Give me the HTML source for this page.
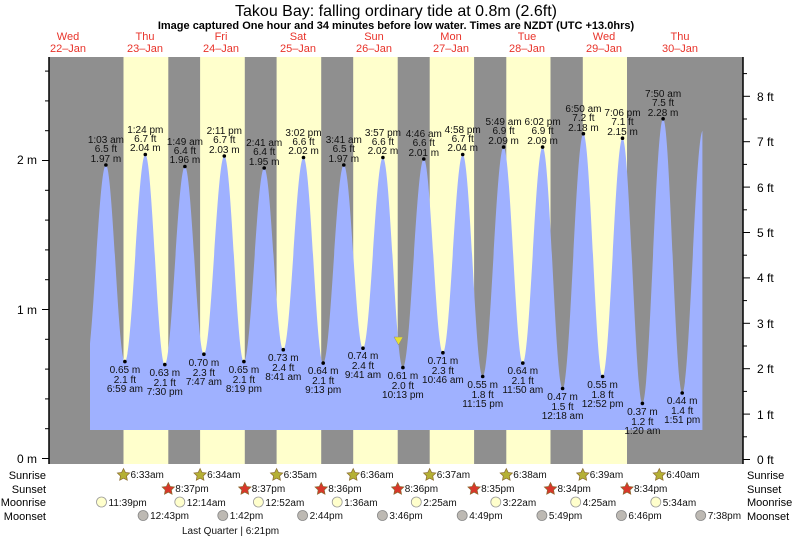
<!DOCTYPE html>
<html><head><meta charset="utf-8"><style>
html,body{margin:0;padding:0;background:#fff;}
svg{display:block;font-family:"Liberation Sans",sans-serif;}
</style></head><body>
<svg width="793" height="538" viewBox="0 0 793 538" xmlns="http://www.w3.org/2000/svg">
<defs>
<clipPath id="cp"><rect x="90" y="57" width="612.4" height="407"/></clipPath>
<polygon id="st" points="0,-6.5 1.88,-2.59 6.18,-2.01 3.04,0.99 3.82,5.26 0,3.2 -3.82,5.26 -3.04,0.99 -6.18,-2.01 -1.88,-2.59" stroke="#8a6a30" stroke-width="0.7"/>
</defs>
<text x="396" y="16" font-size="16" text-anchor="middle">Takou Bay: falling  ordinary tide at 0.8m (2.6ft)</text>
<text x="396" y="29" font-size="11" font-weight="bold" text-anchor="middle">Image captured One hour and 34 minutes before low water. Times are NZDT (UTC +13.0hrs)</text>
<g font-size="11" fill="#e8332a" text-anchor="middle">
<text x="68" y="40">Wed</text><text x="68" y="52">22–Jan</text>
<text x="145" y="40">Thu</text><text x="145" y="52">23–Jan</text>
<text x="221" y="40">Fri</text><text x="221" y="52">24–Jan</text>
<text x="298" y="40">Sat</text><text x="298" y="52">25–Jan</text>
<text x="374" y="40">Sun</text><text x="374" y="52">26–Jan</text>
<text x="451" y="40">Mon</text><text x="451" y="52">27–Jan</text>
<text x="527" y="40">Tue</text><text x="527" y="52">28–Jan</text>
<text x="604" y="40">Wed</text><text x="604" y="52">29–Jan</text>
<text x="680" y="40">Thu</text><text x="680" y="52">30–Jan</text>
</g>
<rect x="49" y="57" width="694" height="407" fill="#8f8f8f"/>
<g fill="#ffffcc">
<rect x="123.5" y="57" width="44.8" height="407"/>
<rect x="200.1" y="57" width="44.7" height="407"/>
<rect x="276.6" y="57" width="44.6" height="407"/>
<rect x="353.2" y="57" width="44.5" height="407"/>
<rect x="429.7" y="57" width="44.4" height="407"/>
<rect x="506.3" y="57" width="44.2" height="407"/>
<rect x="582.8" y="57" width="44.2" height="407"/>
</g>
<path clip-path="url(#cp)" fill="#9fb1ff" d="M85.6,430 L85.6,366.1
C93.0,366.1 98.5,165.0 105.9,165.0
C112.8,165.0 118.0,361.6 124.9,361.6
C132.3,361.6 137.9,154.5 145.3,154.5
C152.4,154.5 157.7,364.6 164.8,364.6
C172.1,364.6 177.6,166.5 184.9,166.5
C191.8,166.5 197.0,354.2 203.9,354.2
C211.3,354.2 216.9,156.0 224.3,156.0
C231.4,156.0 236.8,361.6 243.9,361.6
C251.3,361.6 256.8,168.0 264.2,168.0
C271.2,168.0 276.3,349.7 283.3,349.7
C290.7,349.7 296.1,157.5 303.5,157.5
C310.7,157.5 316.0,363.1 323.2,363.1
C330.7,363.1 336.3,165.0 343.8,165.0
C350.8,165.0 356.0,348.2 363.0,348.2
C370.2,348.2 375.7,157.5 382.9,157.5
C390.2,157.5 395.6,367.6 402.9,367.6
C410.5,367.6 416.2,159.0 423.8,159.0
C430.8,159.0 435.9,352.7 442.9,352.7
C450.1,352.7 455.5,154.5 462.7,154.5
C470.0,154.5 475.4,376.5 482.7,376.5
C490.3,376.5 496.0,147.1 503.6,147.1
C510.6,147.1 515.8,363.1 522.8,363.1
C530.0,363.1 535.4,147.1 542.6,147.1
C549.9,147.1 555.3,388.5 562.6,388.5
C570.2,388.5 575.8,133.7 583.4,133.7
C590.4,133.7 595.6,376.5 602.6,376.5
C609.8,376.5 615.3,138.2 622.5,138.2
C629.7,138.2 635.2,403.4 642.4,403.4
C649.9,403.4 655.6,118.8 663.1,118.8
C670.1,118.8 675.2,393.0 682.2,393.0
C689.7,393.0 695.3,130.7 702.8,130.7
L702.8,430 Z"/>
<polygon points="394,337 403,337 398.5,345" fill="#e8e030" stroke="#888" stroke-width="0.5"/>
<g stroke="#000" stroke-width="1.5"><line x1="49" y1="57" x2="49" y2="464"/><line x1="743" y1="57" x2="743" y2="464"/></g>
<g stroke="#000" stroke-width="1">
<line x1="42" y1="458.5" x2="49" y2="458.5"/><line x1="45" y1="428.7" x2="49" y2="428.7"/><line x1="45" y1="398.9" x2="49" y2="398.9"/><line x1="45" y1="369.1" x2="49" y2="369.1"/><line x1="45" y1="339.3" x2="49" y2="339.3"/><line x1="42" y1="309.5" x2="49" y2="309.5"/><line x1="45" y1="279.7" x2="49" y2="279.7"/><line x1="45" y1="249.9" x2="49" y2="249.9"/><line x1="45" y1="220.1" x2="49" y2="220.1"/><line x1="45" y1="190.3" x2="49" y2="190.3"/><line x1="42" y1="160.5" x2="49" y2="160.5"/><line x1="45" y1="130.7" x2="49" y2="130.7"/><line x1="45" y1="100.9" x2="49" y2="100.9"/><line x1="45" y1="71.1" x2="49" y2="71.1"/>
<line x1="743" y1="459.5" x2="750" y2="459.5"/><line x1="743" y1="436.8" x2="747" y2="436.8"/><line x1="743" y1="414.1" x2="750" y2="414.1"/><line x1="743" y1="391.4" x2="747" y2="391.4"/><line x1="743" y1="368.7" x2="750" y2="368.7"/><line x1="743" y1="346" x2="747" y2="346"/><line x1="743" y1="323.3" x2="750" y2="323.3"/><line x1="743" y1="300.6" x2="747" y2="300.6"/><line x1="743" y1="277.9" x2="750" y2="277.9"/><line x1="743" y1="255.2" x2="747" y2="255.2"/><line x1="743" y1="232.5" x2="750" y2="232.5"/><line x1="743" y1="209.8" x2="747" y2="209.8"/><line x1="743" y1="187.1" x2="750" y2="187.1"/><line x1="743" y1="164.4" x2="747" y2="164.4"/><line x1="743" y1="141.7" x2="750" y2="141.7"/><line x1="743" y1="119" x2="747" y2="119"/><line x1="743" y1="96.3" x2="750" y2="96.3"/><line x1="743" y1="73.6" x2="747" y2="73.6"/>
</g>
<g font-size="12" text-anchor="end"><text x="37" y="164">2 m</text><text x="37" y="314">1 m</text><text x="37" y="463">0 m</text></g>
<g font-size="12">
<text x="757" y="101">8 ft</text><text x="757" y="146">7 ft</text><text x="757" y="192">6 ft</text><text x="757" y="237">5 ft</text><text x="757" y="282">4 ft</text><text x="757" y="328">3 ft</text><text x="757" y="373">2 ft</text><text x="757" y="419">1 ft</text><text x="757" y="464">0 ft</text>
</g>
<g fill="#000">
<circle cx="105.9" cy="165.0" r="1.8"/><circle cx="124.9" cy="361.6" r="1.8"/><circle cx="145.3" cy="154.5" r="1.8"/><circle cx="164.8" cy="364.6" r="1.8"/><circle cx="184.9" cy="166.5" r="1.8"/><circle cx="203.9" cy="354.2" r="1.8"/><circle cx="224.3" cy="156.0" r="1.8"/><circle cx="243.9" cy="361.6" r="1.8"/><circle cx="264.2" cy="168.0" r="1.8"/><circle cx="283.3" cy="349.7" r="1.8"/><circle cx="303.5" cy="157.5" r="1.8"/><circle cx="323.2" cy="363.1" r="1.8"/><circle cx="343.8" cy="165.0" r="1.8"/><circle cx="363.0" cy="348.2" r="1.8"/><circle cx="382.9" cy="157.5" r="1.8"/><circle cx="402.9" cy="367.6" r="1.8"/><circle cx="423.8" cy="159.0" r="1.8"/><circle cx="442.9" cy="352.7" r="1.8"/><circle cx="462.7" cy="154.5" r="1.8"/><circle cx="482.7" cy="376.5" r="1.8"/><circle cx="503.6" cy="147.1" r="1.8"/><circle cx="522.8" cy="363.1" r="1.8"/><circle cx="542.6" cy="147.1" r="1.8"/><circle cx="562.6" cy="388.5" r="1.8"/><circle cx="583.4" cy="133.7" r="1.8"/><circle cx="602.6" cy="376.5" r="1.8"/><circle cx="622.5" cy="138.2" r="1.8"/><circle cx="642.4" cy="403.4" r="1.8"/><circle cx="663.1" cy="118.8" r="1.8"/><circle cx="682.2" cy="393.0" r="1.8"/>
</g>
<g font-size="10" text-anchor="middle" fill="#111">
<text x="105.9" y="143">1:03 am</text><text x="105.9" y="152">6.5 ft</text><text x="105.9" y="162">1.97 m</text>
<text x="124.9" y="373">0.65 m</text><text x="124.9" y="383">2.1 ft</text><text x="124.9" y="392">6:59 am</text>
<text x="145.3" y="133">1:24 pm</text><text x="145.3" y="142">6.7 ft</text><text x="145.3" y="151">2.04 m</text>
<text x="164.8" y="376">0.63 m</text><text x="164.8" y="386">2.1 ft</text><text x="164.8" y="395">7:30 pm</text>
<text x="184.9" y="145">1:49 am</text><text x="184.9" y="154">6.4 ft</text><text x="184.9" y="163">1.96 m</text>
<text x="203.9" y="366">0.70 m</text><text x="203.9" y="376">2.3 ft</text><text x="203.9" y="385">7:47 am</text>
<text x="224.3" y="134">2:11 pm</text><text x="224.3" y="143">6.7 ft</text><text x="224.3" y="153">2.03 m</text>
<text x="243.9" y="373">0.65 m</text><text x="243.9" y="383">2.1 ft</text><text x="243.9" y="392">8:19 pm</text>
<text x="264.2" y="146">2:41 am</text><text x="264.2" y="155">6.4 ft</text><text x="264.2" y="165">1.95 m</text>
<text x="283.3" y="361">0.73 m</text><text x="283.3" y="371">2.4 ft</text><text x="283.3" y="380">8:41 am</text>
<text x="303.5" y="136">3:02 pm</text><text x="303.5" y="145">6.6 ft</text><text x="303.5" y="154">2.02 m</text>
<text x="323.2" y="374">0.64 m</text><text x="323.2" y="384">2.1 ft</text><text x="323.2" y="393">9:13 pm</text>
<text x="343.8" y="143">3:41 am</text><text x="343.8" y="152">6.5 ft</text><text x="343.8" y="162">1.97 m</text>
<text x="363" y="359">0.74 m</text><text x="363" y="369">2.4 ft</text><text x="363" y="378">9:41 am</text>
<text x="382.9" y="136">3:57 pm</text><text x="382.9" y="145">6.6 ft</text><text x="382.9" y="154">2.02 m</text>
<text x="402.9" y="379">0.61 m</text><text x="402.9" y="389">2.0 ft</text><text x="402.9" y="398">10:13 pm</text>
<text x="423.8" y="137">4:46 am</text><text x="423.8" y="146">6.6 ft</text><text x="423.8" y="156">2.01 m</text>
<text x="442.9" y="364">0.71 m</text><text x="442.9" y="374">2.3 ft</text><text x="442.9" y="383">10:46 am</text>
<text x="462.7" y="133">4:58 pm</text><text x="462.7" y="142">6.7 ft</text><text x="462.7" y="151">2.04 m</text>
<text x="482.7" y="388">0.55 m</text><text x="482.7" y="398">1.8 ft</text><text x="482.7" y="407">11:15 pm</text>
<text x="503.6" y="125">5:49 am</text><text x="503.6" y="134">6.9 ft</text><text x="503.6" y="144">2.09 m</text>
<text x="522.8" y="374">0.64 m</text><text x="522.8" y="384">2.1 ft</text><text x="522.8" y="393">11:50 am</text>
<text x="542.6" y="125">6:02 pm</text><text x="542.6" y="134">6.9 ft</text><text x="542.6" y="144">2.09 m</text>
<text x="562.6" y="400">0.47 m</text><text x="562.6" y="410">1.5 ft</text><text x="562.6" y="419">12:18 am</text>
<text x="583.4" y="112">6:50 am</text><text x="583.4" y="121">7.2 ft</text><text x="583.4" y="131">2.18 m</text>
<text x="602.6" y="388">0.55 m</text><text x="602.6" y="398">1.8 ft</text><text x="602.6" y="407">12:52 pm</text>
<text x="622.5" y="116">7:06 pm</text><text x="622.5" y="125">7.1 ft</text><text x="622.5" y="135">2.15 m</text>
<text x="642.4" y="415">0.37 m</text><text x="642.4" y="425">1.2 ft</text><text x="642.4" y="434">1:20 am</text>
<text x="663.1" y="97">7:50 am</text><text x="663.1" y="106">7.5 ft</text><text x="663.1" y="116">2.28 m</text>
<text x="682.2" y="404">0.44 m</text><text x="682.2" y="414">1.4 ft</text><text x="682.2" y="423">1:51 pm</text>
</g>
<g font-size="11" text-anchor="end"><text x="46" y="479">Sunrise</text><text x="46" y="493">Sunset</text><text x="46" y="506">Moonrise</text><text x="46" y="520">Moonset</text></g>
<g font-size="11"><text x="747" y="479">Sunrise</text><text x="747" y="493">Sunset</text><text x="747" y="506">Moonrise</text><text x="747" y="520">Moonset</text></g>
<g fill="#b5b035">
<use href="#st" x="123.5" y="475"/><use href="#st" x="200.1" y="475"/><use href="#st" x="276.6" y="475"/><use href="#st" x="353.2" y="475"/><use href="#st" x="429.7" y="475"/><use href="#st" x="506.3" y="475"/><use href="#st" x="582.8" y="475"/><use href="#st" x="659.3" y="475"/>
</g>
<g fill="#d8372a">
<use href="#st" x="168.3" y="489"/><use href="#st" x="244.8" y="489"/><use href="#st" x="321.2" y="489"/><use href="#st" x="397.7" y="489"/><use href="#st" x="474.1" y="489"/><use href="#st" x="550.5" y="489"/><use href="#st" x="627" y="489"/>
</g>
<g fill="#ffffcc" stroke="#999" stroke-width="0.8">
<circle cx="101.5" cy="502" r="5"/><circle cx="179.8" cy="502" r="5"/><circle cx="258.4" cy="502" r="5"/><circle cx="337.2" cy="502" r="5"/><circle cx="416.3" cy="502" r="5"/><circle cx="495.8" cy="502" r="5"/><circle cx="575.7" cy="502" r="5"/><circle cx="655.8" cy="502" r="5"/>
</g>
<g fill="#bdb9b3" stroke="#888" stroke-width="0.8">
<circle cx="143.1" cy="515.5" r="5"/><circle cx="222.8" cy="515.5" r="5"/><circle cx="302.6" cy="515.5" r="5"/><circle cx="382.4" cy="515.5" r="5"/><circle cx="462.2" cy="515.5" r="5"/><circle cx="541.9" cy="515.5" r="5"/><circle cx="621.4" cy="515.5" r="5"/><circle cx="700.7" cy="515.5" r="5"/>
</g>
<g font-size="10" fill="#111">
<text x="130.5" y="478">6:33am</text><text x="207.1" y="478">6:34am</text><text x="283.6" y="478">6:35am</text><text x="360.2" y="478">6:36am</text><text x="436.7" y="478">6:37am</text><text x="513.3" y="478">6:38am</text><text x="589.8" y="478">6:39am</text><text x="666.3" y="478">6:40am</text>
<text x="175.3" y="492">8:37pm</text><text x="251.8" y="492">8:37pm</text><text x="328.2" y="492">8:36pm</text><text x="404.7" y="492">8:36pm</text><text x="481.1" y="492">8:35pm</text><text x="557.5" y="492">8:34pm</text><text x="634" y="492">8:34pm</text>
<text x="108.5" y="506">11:39pm</text><text x="186.8" y="506">12:14am</text><text x="265.4" y="506">12:52am</text><text x="344.2" y="506">1:36am</text><text x="423.3" y="506">2:25am</text><text x="502.8" y="506">3:22am</text><text x="582.7" y="506">4:25am</text><text x="662.8" y="506">5:34am</text>
<text x="150.1" y="519">12:43pm</text><text x="229.8" y="519">1:42pm</text><text x="309.6" y="519">2:44pm</text><text x="389.4" y="519">3:46pm</text><text x="469.2" y="519">4:49pm</text><text x="548.9" y="519">5:49pm</text><text x="628.4" y="519">6:46pm</text><text x="707.7" y="519">7:38pm</text>
<text x="182" y="534">Last Quarter | 6:21pm</text>
</g>
</svg>
</body></html>
